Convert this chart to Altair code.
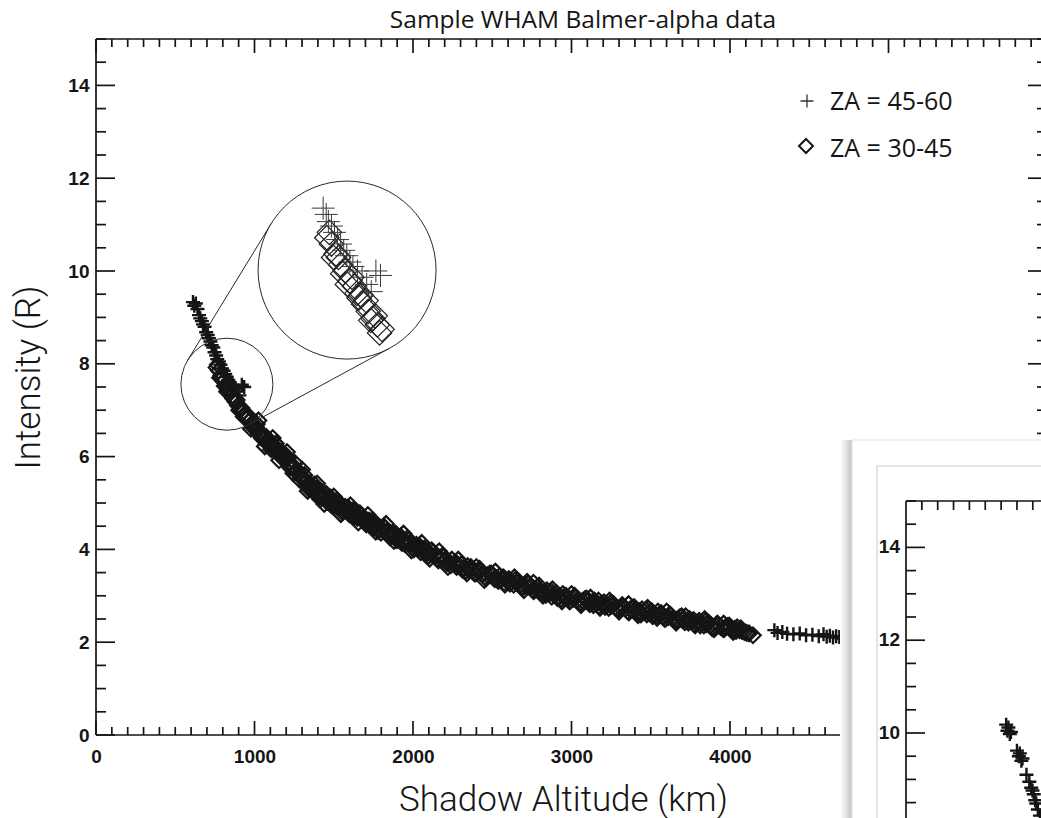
import altair as alt
import numpy as np
import pandas as pd

# ------------------------------------------------------------------ text
TITLE = "Sample WHAM Balmer-alpha data"
X_TITLE = "Shadow Altitude (km)"
Y_TITLE = "Intensity (R)"
LEGEND_LABELS = ["ZA = 45-60", "ZA = 30-45"]

X_LABELS = [0, 1000, 2000, 3000, 4000, 5000]
Y_LABELS = [0, 2, 4, 6, 8, 10, 12, 14]
PANEL2_Y_LABELS = [10, 12, 14]

# ------------------------------------------------------------------ data
# (shadow altitude km, intensity R), zenith angle 30-45 deg
DIAMONDS = [
    (760, 7.92), (768, 7.98), (775, 7.85), (790, 7.74), (798, 7.70), (805, 7.62),
    (812, 7.52), (820, 7.55), (835, 7.44), (842, 7.48), (850, 7.38), (858, 7.30),
    (865, 7.25), (872, 7.28), (880, 7.18), (895, 7.10), (903, 7.00), (910, 7.02),
    (918, 7.05), (925, 6.95), (940, 6.90), (947, 6.84), (955, 6.82), (962, 6.88),
    (970, 6.78), (985, 6.70), (992, 6.62), (1000, 6.66), (1010, 6.64), (1020, 6.55),
    (1030, 6.48), (1040, 6.47), (1050, 6.48), (1060, 6.40), (1070, 6.32), (1080, 6.33),
    (1090, 6.36), (1100, 6.28), (1110, 6.20), (1120, 6.20), (1130, 6.22), (1140, 6.15),
    (1150, 6.08), (1160, 6.08), (1170, 6.10), (1180, 6.02), (1190, 5.94), (1200, 5.95),
    (1210, 5.96), (1220, 5.88), (1230, 5.80), (1240, 5.80), (1250, 5.78), (1260, 5.70),
    (1270, 5.70), (1280, 5.62), (1290, 5.56), (1300, 5.55), (1310, 5.54), (1320, 5.46),
    (1330, 5.38), (1340, 5.40), (1350, 5.42), (1360, 5.33), (1372, 5.24), (1385, 5.30),
    (1392, 5.30), (1400, 5.22), (1410, 5.14), (1420, 5.15), (1432, 5.22), (1445, 5.12),
    (1458, 5.02), (1470, 5.06), (1480, 5.12), (1490, 5.02), (1502, 4.94), (1515, 4.98),
    (1528, 5.00), (1540, 4.92), (1550, 4.84), (1560, 4.87), (1572, 4.92), (1585, 4.83),
    (1598, 4.76), (1610, 4.80), (1622, 4.84), (1635, 4.76), (1648, 4.68), (1660, 4.70),
    (1672, 4.74), (1685, 4.66), (1698, 4.58), (1710, 4.60), (1722, 4.62), (1735, 4.55),
    (1748, 4.47), (1760, 4.50), (1772, 4.54), (1785, 4.44), (1798, 4.36), (1810, 4.42),
    (1822, 4.46), (1835, 4.38), (1848, 4.30), (1860, 4.32), (1872, 4.36), (1885, 4.28),
    (1898, 4.20), (1910, 4.25), (1922, 4.28), (1935, 4.20), (1948, 4.12), (1960, 4.15),
    (1972, 4.20), (1985, 4.12), (1998, 4.04), (2010, 4.08), (2022, 4.10), (2035, 4.02),
    (2048, 3.94), (2060, 3.98), (2072, 4.02), (2085, 3.95), (2098, 3.86), (2110, 3.90),
    (2125, 3.94), (2140, 3.86), (2155, 3.80), (2170, 3.82), (2185, 3.86), (2200, 3.77),
    (2215, 3.70), (2230, 3.73), (2245, 3.78), (2260, 3.68), (2275, 3.62), (2290, 3.65),
    (2305, 3.68), (2320, 3.60), (2335, 3.54), (2350, 3.57), (2365, 3.62), (2380, 3.54),
    (2395, 3.48), (2410, 3.52), (2425, 3.55), (2440, 3.47), (2455, 3.40), (2470, 3.44),
    (2485, 3.48), (2500, 3.42), (2515, 3.36), (2530, 3.38), (2545, 3.42), (2560, 3.35),
    (2575, 3.28), (2590, 3.33), (2605, 3.36), (2620, 3.30), (2635, 3.24), (2650, 3.28),
    (2665, 3.31), (2680, 3.25), (2695, 3.18), (2710, 3.22), (2725, 3.26), (2740, 3.19),
    (2755, 3.12), (2770, 3.15), (2785, 3.18), (2800, 3.12), (2815, 3.06), (2830, 3.08),
    (2845, 3.12), (2860, 3.05), (2875, 2.98), (2890, 3.02), (2905, 3.06), (2920, 2.99),
    (2935, 2.93), (2950, 2.97), (2965, 3.00), (2980, 2.95), (2995, 2.90), (3010, 2.93),
    (3025, 2.97), (3040, 2.91), (3055, 2.85), (3070, 2.89), (3085, 2.93), (3100, 2.88),
    (3115, 2.82), (3130, 2.86), (3145, 2.90), (3160, 2.84), (3175, 2.78), (3190, 2.82),
    (3205, 2.86), (3220, 2.80), (3235, 2.74), (3250, 2.78), (3265, 2.82), (3280, 2.76),
    (3295, 2.70), (3310, 2.74), (3325, 2.77), (3340, 2.72), (3355, 2.67), (3370, 2.71),
    (3385, 2.74), (3400, 2.69), (3415, 2.64), (3430, 2.67), (3445, 2.71), (3460, 2.65),
    (3475, 2.60), (3490, 2.63), (3505, 2.67), (3520, 2.61), (3535, 2.56), (3550, 2.58),
    (3565, 2.63), (3580, 2.56), (3595, 2.51), (3610, 2.54), (3625, 2.58), (3640, 2.52),
    (3655, 2.47), (3670, 2.50), (3685, 2.54), (3700, 2.48), (3715, 2.43), (3730, 2.46),
    (3745, 2.50), (3760, 2.44), (3775, 2.39), (3790, 2.42), (3805, 2.46), (3820, 2.41),
    (3835, 2.36), (3850, 2.39), (3865, 2.42), (3880, 2.37), (3895, 2.32), (3910, 2.35),
    (3925, 2.38), (3940, 2.33), (3955, 2.29), (3970, 2.32), (3985, 2.35), (4000, 2.31),
    (4015, 2.26), (4030, 2.29), (4045, 2.32), (4060, 2.26), (4075, 2.24), (4090, 2.22),
    (4105, 2.20), (4120, 2.19), (4145, 2.15),
    # outer edges of the band
    (782, 7.70), (827, 7.40), (888, 7.22), (932, 6.86), (977, 6.60), (1015, 6.70),
    (1045, 6.40), (1075, 6.42), (1105, 6.16), (1135, 6.28), (1165, 6.00), (1195, 6.04),
    (1225, 5.76), (1255, 5.86), (1285, 5.50), (1315, 5.60), (1345, 5.30), (1378, 5.40),
    (1415, 5.08), (1452, 5.20), (1485, 4.95), (1520, 5.06), (1555, 4.80), (1590, 4.90),
    (1628, 4.70), (1665, 4.78), (1705, 4.54), (1740, 4.62), (1780, 4.40), (1815, 4.50),
    (1855, 4.26), (1890, 4.34), (1930, 4.14), (1965, 4.24), (2005, 4.00), (2040, 4.08),
    (2080, 3.90), (2118, 3.98), (2160, 3.76), (2195, 3.84), (2238, 3.66), (2270, 3.72),
    (2312, 3.56), (2345, 3.64), (2388, 3.48), (2420, 3.58), (2462, 3.38), (2495, 3.48),
    (2538, 3.32), (2570, 3.40), (2612, 3.26), (2645, 3.34), (2688, 3.20), (2720, 3.30),
    (2762, 3.10), (2795, 3.22), (2838, 3.02), (2870, 3.10), (2912, 2.95), (2945, 3.04),
    (2988, 2.88), (3020, 3.00), (3062, 2.84), (3095, 2.94), (3138, 2.80), (3170, 2.90),
    (3212, 2.76), (3245, 2.84), (3288, 2.72), (3320, 2.80), (3362, 2.64), (3395, 2.76),
    (3438, 2.60), (3470, 2.70), (3512, 2.56), (3545, 2.66), (3588, 2.50), (3620, 2.60),
    (3662, 2.46), (3695, 2.56), (3738, 2.42), (3770, 2.48), (3812, 2.36), (3845, 2.45),
    (3888, 2.30), (3920, 2.40), (3962, 2.28), (3995, 2.36), (4038, 2.24), (4068, 2.30),
    (1025, 6.78), (1065, 6.22), (1115, 6.40), (1155, 5.92), (1205, 6.10), (1245, 5.64),
    (1300, 5.72), (1335, 5.26), (1395, 5.42), (1440, 4.98), (1500, 5.14), (1545, 4.76),
    (1605, 4.95), (1655, 4.58), (1715, 4.74), (1765, 4.38), (1830, 4.55), (1880, 4.18),
    (1940, 4.34), (1990, 3.98), (2055, 4.14), (2105, 3.80), (2165, 3.96), (2220, 3.62),
    (2285, 3.78), (2340, 3.48), (2400, 3.62), (2450, 3.34), (2520, 3.52), (2580, 3.24),
    (2640, 3.40), (2700, 3.12), (2760, 3.28), (2820, 3.00), (2880, 3.14), (2940, 2.88),
    (3000, 3.04), (3060, 2.80), (3120, 2.96), (3180, 2.74), (3240, 2.90), (3300, 2.66),
    (3360, 2.82), (3420, 2.58), (3480, 2.74), (3540, 2.52), (3600, 2.66), (3660, 2.42),
    (3720, 2.56), (3780, 2.36), (3840, 2.50), (3900, 2.28), (3960, 2.40), (4020, 2.22),
]

# zenith angle 45-60 deg
CROSSES = [
    (612, 9.33), (620, 9.25), (630, 9.30), (640, 9.18), (650, 9.05), (658, 8.98),
    (668, 8.92), (675, 8.85), (685, 8.80), (695, 8.68), (705, 8.62), (712, 8.55),
    (722, 8.48), (730, 8.40), (740, 8.35), (748, 8.25), (758, 8.18), (765, 8.10),
    (775, 8.05), (785, 7.98), (795, 7.90), (805, 7.85), (815, 7.78), (825, 7.72),
    (835, 7.65), (845, 7.60), (860, 7.55), (875, 7.48), (890, 7.40), (905, 7.32),
    (920, 7.55), (935, 7.50),
    (4280, 2.26), (4300, 2.20), (4330, 2.22), (4360, 2.18), (4400, 2.17), (4440, 2.19),
    (4480, 2.15), (4520, 2.16), (4560, 2.13), (4590, 2.17), (4610, 2.12), (4630, 2.14),
    (4650, 2.10), (4670, 2.13), (4690, 2.11), (4705, 2.08), (4720, 2.12), (4740, 2.09),
    (4760, 2.11), (4775, 2.07), (4790, 2.10), (4810, 2.08), (4830, 2.10), (4850, 2.06),
]

# second panel (window in front of the main plot)
PANEL2_CROSSES = [
    (632, 10.18), (640, 10.05), (646, 10.12), (655, 9.98), (662, 10.02), (700, 9.62),
    (712, 9.50), (718, 9.56), (728, 9.40), (735, 9.45), (760, 9.10), (778, 8.95),
    (790, 8.82), (798, 8.76), (806, 8.68), (815, 8.55), (822, 8.48), (832, 8.35),
    (845, 8.22),
]

# ------------------------------------------------------------------ layout
PAD = {"left": 96, "top": 39, "right": 0, "bottom": 83}
W, H = 945, 696
PX_PER_KM = 0.1585
Y_TOP = 15
PX_PER_R = H / Y_TOP
X_FRAME = 6000
X_DOM = [0, W / PX_PER_KM]
Y_DOM = [0, Y_TOP]

INK = "#151515"
TICK_FONT = "Liberation Sans"
TICK_SIZE = 19
TICK_WEIGHT = "bold"
TEXT_FONT = "Open Sans"
TITLE_FONT = "Roboto"

PLUS = "M-1,0L1,0M0,-1L0,1"

# magnifier: source and destination centres (km, R) and radii (px)
LENS_SRC = (826, 7.56)
LENS_DST = (1584, 10.02)
LENS_R_SRC, LENS_R_DST = 46, 89
MAG = LENS_R_DST / LENS_R_SRC

# second panel: where its (0 km, 15 R) corner sits in plot pixels
P2_ORIGIN = (810, 462)


def sc(dom):
    return alt.Scale(domain=dom, zero=False, nice=False)


def to_px(x, y):
    return np.array([x * PX_PER_KM, H - y * PX_PER_R])


def to_data(p):
    return p[0] / PX_PER_KM, (H - p[1]) / PX_PER_R


def rules(df, xdom, ydom, width=1.7, color=INK):
    return alt.Chart(df).mark_rule(color=color, strokeWidth=width).encode(
        x=alt.X("x:Q", scale=sc(xdom), axis=None), x2="x2:Q",
        y=alt.Y("y:Q", scale=sc(ydom), axis=None), y2="y2:Q",
    )


def segs(rows):
    return pd.DataFrame(rows, columns=["x", "y", "x2", "y2"])


# ------------------------------------------------------------------ main frame, IDL-style inward ticks
rows = [(0, 0, X_FRAME, 0), (0, Y_TOP, X_FRAME, Y_TOP),
        (0, 0, 0, Y_TOP), (X_FRAME, 0, X_FRAME, Y_TOP)]
for k in range(0, X_FRAME + 1, 100):
    ln = (14 if k % 1000 == 0 else 8) / PX_PER_R
    rows += [(k, 0, k, ln), (k, Y_TOP, k, Y_TOP - ln)]
for i in range(0, 2 * Y_TOP + 1):
    r = i * 0.5
    ln = (19 if i % 4 == 0 else 10) / PX_PER_KM
    rows += [(0, r, ln, r), (X_FRAME, r, X_FRAME - ln, r)]
main_rules = rules(segs(rows), X_DOM, Y_DOM)

dia = pd.DataFrame(DIAMONDS, columns=["km", "r"])
crs = pd.DataFrame(CROSSES, columns=["km", "r"])

x_axis = alt.Axis(values=X_LABELS, format="d", ticks=False, domain=False, grid=False,
                  labelFont=TICK_FONT, labelFontSize=TICK_SIZE, labelFontWeight=TICK_WEIGHT,
                  labelColor=INK, labelPadding=12,
                  labelFlush=False, labelOverlap=False,
                  title=X_TITLE, titleFont=TITLE_FONT, titleFontWeight=300, titleFontSize=35,
                  titleColor=INK, titleX=467, titleY=75, titleAlign="center",
                  titleBaseline="alphabetic", zindex=0)
y_axis = alt.Axis(values=Y_LABELS, ticks=False, domain=False, grid=False,
                  labelFont=TICK_FONT, labelFontSize=TICK_SIZE, labelFontWeight=TICK_WEIGHT,
                  labelColor=INK, labelPadding=7,
                  labelFlush=False, labelOverlap=False,
                  title=Y_TITLE, titleFont=TITLE_FONT, titleFontWeight=300, titleFontSize=35,
                  titleColor=INK, titleX=-57, titleY=338, titleAngle=270, titleAlign="center",
                  titleBaseline="alphabetic", zindex=0)

diamonds = alt.Chart(dia).mark_point(shape="diamond", size=240, filled=False, color=INK,
                                     strokeWidth=2.2, opacity=1).encode(
    x=alt.X("km:Q", scale=sc(X_DOM), axis=x_axis),
    y=alt.Y("r:Q", scale=sc(Y_DOM), axis=y_axis),
)
crosses = alt.Chart(crs).mark_point(shape=PLUS, size=196, filled=False, color=INK,
                                    strokeWidth=2.4, opacity=1).encode(
    x=alt.X("km:Q", scale=sc(X_DOM), axis=None),
    y=alt.Y("r:Q", scale=sc(Y_DOM), axis=None),
)

# ------------------------------------------------------------------ magnifier
c1, c2 = to_px(*LENS_SRC), to_px(*LENS_DST)
d = c2 - c1
dist = np.hypot(*d)
u = d / dist
perp = np.array([-u[1], u[0]])
cos_t = (LENS_R_DST - LENS_R_SRC) / dist
sin_t = np.sqrt(1 - cos_t ** 2)
tangent_rows = []
for sgn in (1, -1):
    n = cos_t * u + sgn * sin_t * perp
    p1 = c1 - LENS_R_SRC * n
    p2 = c2 - LENS_R_DST * n
    a, b = to_data(p1), to_data(p2)
    tangent_rows.append((a[0], a[1], b[0], b[1]))
lens_lines = rules(segs(tangent_rows), X_DOM, Y_DOM, width=1, color="#2a2a2a")

lens_src = alt.Chart(pd.DataFrame([LENS_SRC], columns=["km", "r"])).mark_point(
    shape="circle", size=(2 * LENS_R_SRC) ** 2, filled=False, color="#2a2a2a",
    strokeWidth=1, opacity=1).encode(
    x=alt.X("km:Q", scale=sc(X_DOM), axis=None), y=alt.Y("r:Q", scale=sc(Y_DOM), axis=None))
lens_dst = alt.Chart(pd.DataFrame([LENS_DST], columns=["km", "r"])).mark_point(
    shape="circle", size=(2 * LENS_R_DST) ** 2, filled=True, fill="white", stroke="#2a2a2a",
    strokeWidth=1, opacity=1).encode(
    x=alt.X("km:Q", scale=sc(X_DOM), axis=None), y=alt.Y("r:Q", scale=sc(Y_DOM), axis=None))

# magnified scales: px' = c2 + MAG * (px - c1)
mx0 = -(c2[0] - MAG * c1[0]) / (MAG * PX_PER_KM)
MAG_X_DOM = [mx0, mx0 + W / (MAG * PX_PER_KM)]
my0 = (H - c1[1] - (H - c2[1]) / MAG) / PX_PER_R
MAG_Y_DOM = [my0, my0 + H / (MAG * PX_PER_R)]


def inside_lens(df):
    px = df["km"] * PX_PER_KM
    py = H - df["r"] * PX_PER_R
    return df[np.hypot(px - c1[0], py - c1[1]) < LENS_R_SRC - 8]


mag_dia = alt.Chart(inside_lens(dia)).mark_point(
    shape="diamond", size=600, filled=False, color="#222222", strokeWidth=1.2, opacity=1).encode(
    x=alt.X("km:Q", scale=sc(MAG_X_DOM), axis=None),
    y=alt.Y("r:Q", scale=sc(MAG_Y_DOM), axis=None))
mag_crs = alt.Chart(inside_lens(crs)).mark_point(
    shape=PLUS, size=529, filled=False, color="#3a3a3a", strokeWidth=1, opacity=1).encode(
    x=alt.X("km:Q", scale=sc(MAG_X_DOM), axis=None),
    y=alt.Y("r:Q", scale=sc(MAG_Y_DOM), axis=None))

# ------------------------------------------------------------------ title and legend
title = alt.Chart(pd.DataFrame({"t": [TITLE]})).mark_text(
    font=TEXT_FONT, fontSize=24.5, color=INK, align="center", baseline="alphabetic").encode(
    x=alt.value(487), y=alt.value(-11), text="t:N")

leg_plus = alt.Chart(pd.DataFrame({"s": [0]})).mark_point(
    shape=PLUS, size=169, filled=False, color="#333333", strokeWidth=1.3, opacity=1).encode(
    x=alt.value(711), y=alt.value(62))
leg_dia = alt.Chart(pd.DataFrame({"s": [0]})).mark_point(
    shape="diamond", size=196, filled=False, color=INK, strokeWidth=2, opacity=1).encode(
    x=alt.value(710), y=alt.value(107))
leg_t1 = alt.Chart(pd.DataFrame({"t": [LEGEND_LABELS[0]]})).mark_text(
    font=TEXT_FONT, fontSize=25, color=INK, align="left", baseline="alphabetic").encode(
    x=alt.value(734), y=alt.value(71), text="t:N")
leg_t2 = alt.Chart(pd.DataFrame({"t": [LEGEND_LABELS[1]]})).mark_text(
    font=TEXT_FONT, fontSize=25, color=INK, align="left", baseline="alphabetic").encode(
    x=alt.value(734), y=alt.value(118), text="t:N")

# ------------------------------------------------------------------ window holding a second panel
shade = alt.LinearGradient(gradient="linear", x1=0, x2=1, y1=0, y2=0, stops=[
    alt.GradientStop(color="#ffffff", offset=0),
    alt.GradientStop(color="#c4c4c4", offset=1)])
shadow = alt.Chart(pd.DataFrame({"s": [0]})).mark_rect(fill=shade).encode(
    x=alt.value(744), x2=alt.value(756), y=alt.value(401), y2=alt.value(800))
window = alt.Chart(pd.DataFrame({"s": [0]})).mark_rect(
    fill="white", stroke="#e4e4e4", strokeWidth=1).encode(
    x=alt.value(756), x2=alt.value(990), y=alt.value(401), y2=alt.value(800))
inner = alt.Chart(pd.DataFrame({"s": [0]})).mark_rect(
    fill="white", stroke="#dcdcdc", strokeWidth=1.5).encode(
    x=alt.value(781), x2=alt.value(990), y=alt.value(427), y2=alt.value(800))

P2_X_DOM = [-P2_ORIGIN[0] / PX_PER_KM, (W - P2_ORIGIN[0]) / PX_PER_KM]
P2_Y_DOM = [Y_TOP - (H - P2_ORIGIN[1]) / PX_PER_R, Y_TOP + P2_ORIGIN[1] / PX_PER_R]

rows2 = [(0, Y_TOP, 0, 7.5), (0, Y_TOP, 1200, Y_TOP)]
for i in range(0, 16):
    r = Y_TOP - 0.5 * i
    ln = (19 if r % 2 == 0 else 10) / PX_PER_KM
    rows2.append((0, r, ln, r))
for k in range(100, 1000, 100):
    rows2.append((k, Y_TOP, k, Y_TOP - 9 / PX_PER_R))
p2_rules = rules(segs(rows2), P2_X_DOM, P2_Y_DOM)

p2_labels = alt.Chart(pd.DataFrame({"x": 0, "r": PANEL2_Y_LABELS})).mark_text(
    font=TICK_FONT, fontSize=TICK_SIZE, fontWeight=TICK_WEIGHT, color=INK,
    align="right", baseline="middle", dx=-6).encode(
    x=alt.X("x:Q", scale=sc(P2_X_DOM), axis=None),
    y=alt.Y("r:Q", scale=sc(P2_Y_DOM), axis=None),
    text=alt.Text("r:Q"))

p2_crs = alt.Chart(pd.DataFrame(PANEL2_CROSSES, columns=["km", "r"])).mark_point(
    shape=PLUS, size=196, filled=False, color=INK, strokeWidth=2.4, opacity=1).encode(
    x=alt.X("km:Q", scale=sc(P2_X_DOM), axis=None),
    y=alt.Y("r:Q", scale=sc(P2_Y_DOM), axis=None))

chart = alt.layer(
    main_rules, diamonds, crosses,
    lens_lines, lens_src, lens_dst, mag_dia, mag_crs,
    title, leg_plus, leg_t1, leg_dia, leg_t2,
    shadow, window, inner, p2_rules, p2_labels, p2_crs,
).resolve_scale(
    x="independent", y="independent"
).properties(
    width=W, height=H,
    autosize=alt.AutoSizeParams(type="none"),
    padding=PAD,
    background="white",
).configure_view(strokeWidth=0)

chart.save("out.html", embed_options={"renderer": "svg", "actions": False})
